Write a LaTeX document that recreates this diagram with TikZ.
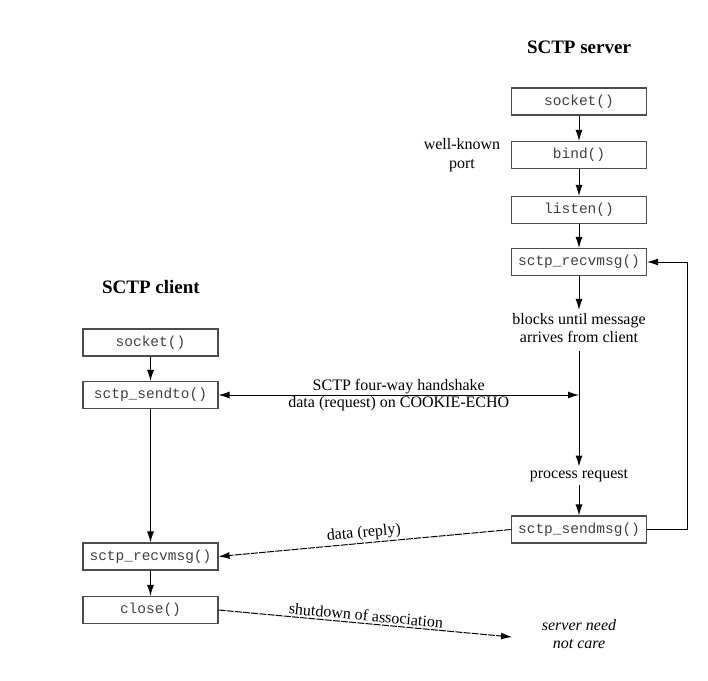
\documentclass[tikz,border=0pt]{standalone}
\usepackage{fontspec}
\setmainfont{Liberation Serif}
\setmonofont{Liberation Mono}
\usetikzlibrary{arrows.meta}
\begin{document}
\begin{tikzpicture}[x=1pt,y=-1pt,
  fbox/.style={draw=black!70,line width=1.1pt,minimum width=135pt,minimum height=27pt,inner sep=0pt,font=\fontsize{14.5}{16}\ttfamily,text=black!75},
  lbl/.style={font=\fontsize{16}{18.5}\selectfont,align=center,inner sep=3pt},
  ttl/.style={font=\fontsize{19}{21}\selectfont\bfseries},
  conn/.style={line width=1pt,-{Latex[length=11pt,width=7pt]}},
  dconn/.style={conn,dash pattern=on 7pt off 1.2pt}
]
\useasboundingbox (0,0) rectangle (708,680);
% server
\node[ttl] (stitle) at (579,47) {SCTP server};
\node[fbox] (ssock) at (579,101.5) {socket()};
\node[fbox] (sbind) at (579,155) {bind()};
\node[fbox] (slist) at (579,210) {listen()};
\node[fbox] (srecv) at (579,262) {sctp\_recvmsg()};
\node[lbl] (wkp) at (462,155) {well-known\\port};
\node[lbl] (blk) at (579,328) {blocks until message\\arrives from client};
\node[lbl] (proc) at (579,476) {process request};
\node[fbox] (ssend) at (579,529.5) {sctp\_sendmsg()};
\coordinate (hs) at (579,395);
\coordinate (lp) at (687,529.5);
% client
\node[ttl] (ctitle) at (151,287) {SCTP client};
\node[fbox] (csock) at (150.5,342.5) {socket()};
\node[fbox] (csend) at (150.5,395) {sctp\_sendto()};
\node[fbox] (crecv) at (150.5,556.5) {sctp\_recvmsg()};
\node[fbox] (cclose) at (150.5,610) {close()};
\node[lbl,font=\fontsize{16}{18.5}\selectfont\itshape] (care) at (579,634) {server need\\not care};
\coordinate (nc) at (512,637);
% connectors
\draw[conn] (ssock) -- (sbind);
\draw[conn] (sbind) -- (slist);
\draw[conn] (slist) -- (srecv);
\draw[conn] (srecv) -- (blk);
\draw[line width=1pt] (blk.south) ++(0,5) -- (hs);
\draw[conn] (hs) -- (proc);
\draw[conn] (proc) -- (ssend);
\draw[conn] (ssend.east) -- (lp) |- (srecv.east);
\draw[conn] (csock) -- (csend);
\draw[conn,{Latex[length=11pt,width=7pt]}-{Latex[length=11pt,width=7pt]}] (csend.east) -- (hs)
  node[midway,above,lbl,inner sep=1pt] {SCTP four-way handshake}
  node[midway,below,lbl,inner sep=1pt] {data (request) on COOKIE-ECHO};
\draw[conn] (csend) -- (crecv);
\draw[conn] (crecv) -- (cclose);
\draw[dconn] (ssend.west) -- (crecv.east) node[midway,above,sloped,lbl,inner sep=2pt] {data (reply)};
\draw[dconn] (cclose.east) -- (nc) node[midway,above,sloped,lbl,inner sep=2pt] {shutdown of association};
\end{tikzpicture}
\end{document}
